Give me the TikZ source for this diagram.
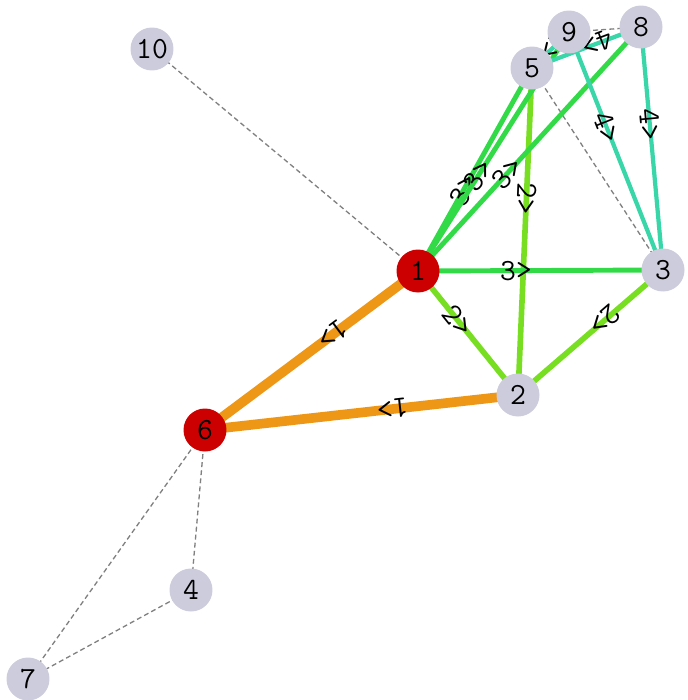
\documentclass[tikz,border=0pt]{standalone}

\pgfdeclarelayer{bg}
\pgfsetlayers{bg,main}

\definecolor{hot}{HTML}{CC0000}
\definecolor{cool}{HTML}{CCCCDC}
\definecolor{amber}{HTML}{EE9616}
\definecolor{lime}{HTML}{78DE22}
\definecolor{leaf}{HTML}{32DA48}
\definecolor{sea}{HTML}{38D6A8}

\tikzset{
  vtx/.style={circle,fill=#1,minimum size=0.86cm,inner sep=0pt,
    font=\ttfamily\fontsize{17.5}{17.5}\selectfont},
  weak/.style={draw=gray,line width=0.75pt,dash pattern=on 2.8pt off 1.8pt},
  elab/.style={sloped,allow upside down,pos=0.4,inner sep=0pt,
    font=\ttfamily\fontsize{17.5}{17.5}\selectfont}
}

\begin{document}
\begin{tikzpicture}[x=0.02cm,y=-0.02cm]
  \useasboundingbox (0,0) rectangle (687,700);
  % vertices
  \foreach \n/\x/\y/\c in {1/418/271/hot,2/518/395/cool,3/663/270/cool,
      4/191/590/cool,5/532/68/cool,6/205/430/hot,7/28/679/cool,
      8/641/27/cool,9/569/32/cool,10/152/49/cool}{
    \node[vtx=\c] (\n) at (\x,\y) {\n};
  }
  \begin{pgfonlayer}{bg}
    % dashed links
    \foreach \a/\b in {1/10,5/3,9/8,6/4,6/7,4/7}{
      \draw[weak] (\a.center) -- (\b.center);
    }
    % weighted links
    \foreach \a/\b/\c/\w/\l in {1/6/amber/5.5/1,2/6/amber/5.5/1,
        1/2/lime/3.2/2,5/2/lime/3.2/2,3/2/lime/3.2/2,
        1/3/leaf/2.8/3,1/5/leaf/2.8/3,1/9/leaf/2.8/3,1/8/leaf/2.8/3,
        9/3/sea/2.4/4,8/3/sea/2.4/4,8/5/sea/2.4/4,9/5/sea/2.4/4}{
      \draw[draw=\c,line width=\w pt] (\a.center) -- node[elab] {\l>} (\b.center);
    }
  \end{pgfonlayer}
\end{tikzpicture}
\end{document}
